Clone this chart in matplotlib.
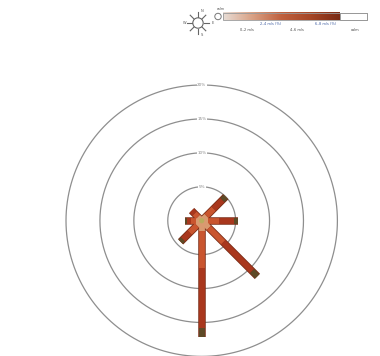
import numpy as np
import matplotlib
matplotlib.use("Agg")
import matplotlib.pyplot as plt
from matplotlib.colors import LinearSegmentedColormap
from matplotlib.patches import Circle, Rectangle

# Wind rose data: frequency (%) per direction and speed class
directions = ["N", "NE", "E", "SE", "S", "SW", "W", "NW"]
angles_deg = [0, 45, 90, 135, 180, 225, 270, 315]
speed_classes = ["0–2 m/s", "2–4 m/s", "4–6 m/s", "6–8 m/s"]
freq_0_2 = [0.0, 1.0, 1.0, 1.5, 1.5, 1.0, 0.8, 0.8]
freq_2_4 = [0.0, 1.5, 1.5, 3.0, 5.4, 1.5, 0.8, 0.7]
freq_4_6 = [0.0, 1.8, 2.2, 6.0, 8.9, 1.4, 0.6, 0.6]
freq_6_8 = [0.0, 0.7, 0.6, 1.1, 1.3, 0.5, 0.3, 0.0]
ring_values = [5, 10, 15, 20]
ring_labels = ["5%", "10%", "15%", "20%"]
legend_labels = ["0–2 m/s", "2–4 m/s (%)", "4–6 m/s", "6–8 m/s (%)", "calm"]

class_colors = ["#d99a70", "#c9552f", "#a9371d", "#5e4a26"]
edge_color = "#7a2c16"

W, H = 380, 356
fig = plt.figure(figsize=(W / 100, H / 100), dpi=100)
fig.patch.set_facecolor("white")

# polar axes: centre at (201.7, 220.7) px, radius 135.7 px
cx, cy, R = 201.7, 220.7, 135.7
ax = fig.add_axes([(cx - R) / W, (H - cy - R) / H, 2 * R / W, 2 * R / H],
                  projection="polar")
ax.set_theta_zero_location("N")
ax.set_theta_direction(-1)
ax.set_ylim(0, ring_values[-1])
ax.set_rticks([])
ax.set_xticks([])
ax.grid(False)
ax.spines["polar"].set_visible(False)
ax.set_facecolor("none")

th_full = np.linspace(0, 2 * np.pi, 361)
for rv, lab in zip(ring_values, ring_labels):
    ax.plot(th_full, np.full_like(th_full, rv), color="#8e8e8e", lw=0.9,
            zorder=1, clip_on=False)
    ax.text(0, rv, lab, fontsize=3, color="#888888", ha="center", va="center",
            bbox=dict(boxstyle="square,pad=0.15", fc="white", ec="none"), zorder=2)

stack = np.array([freq_0_2, freq_2_4, freq_4_6, freq_6_8])
cum = np.vstack([np.zeros(len(directions)), np.cumsum(stack, axis=0)])
bar_lw = 4.2
for j, ang in enumerate(angles_deg):
    t = np.deg2rad(ang)
    total = cum[-1, j]
    if total <= 0:
        continue
    ax.plot([t, t], [0, total], color=edge_color, lw=bar_lw + 1.2,
            solid_capstyle="butt", zorder=3)
    for k in range(len(speed_classes)):
        r0, r1 = cum[k, j], cum[k + 1, j]
        if r1 - r0 <= 0:
            continue
        ax.plot([t, t], [r0, r1], color=class_colors[k], lw=bar_lw,
                solid_capstyle="butt", zorder=4)
ax.scatter([0], [0], s=14, color="#b4b05a", alpha=0.85, zorder=5, edgecolors="none")

# legend overlay in pixel coordinates
lg = fig.add_axes([0, 0, 1, 1])
lg.set_xlim(0, W)
lg.set_ylim(H, 0)
lg.axis("off")
lg.patch.set_alpha(0)

# compass icon
icx, icy = 198, 23
lg.add_patch(Circle((icx, icy), 5.2, fill=False, ec="#666666", lw=0.8))
for a in range(0, 360, 45):
    ra = np.deg2rad(a)
    lg.plot([icx + 6 * np.sin(ra), icx + 11 * np.sin(ra)],
            [icy - 6 * np.cos(ra), icy - 11 * np.cos(ra)], color="#666666", lw=0.8)
for lab, (dx, dy) in zip(["N", "E", "S", "W"], [(4, -12), (15, 0), (4, 12), (-13, 0)]):
    lg.text(icx + dx, icy + dy, lab, fontsize=2.6, color="#555555",
            ha="center", va="center")

# calm marker
lg.add_patch(Circle((218, 16.5), 3.2, fill=False, ec="#777777", lw=0.7))
lg.text(221, 9.5, "calm", fontsize=2.4, color="#555555", ha="center", va="center")

# gradient bar
grad_cmap = LinearSegmentedColormap.from_list(
    "grad", ["#e8ddd6", "#d9a184", "#c0603e", "#a64626", "#7a2a14"])
gx0, gx1, gy0, gy1 = 223, 340, 12.5, 20
lg.imshow(np.linspace(0, 1, 256)[None, :], cmap=grad_cmap, aspect="auto",
          extent=[gx0, gx1, gy1, gy0], zorder=2)
lg.add_patch(Rectangle((gx1, gy0), 27, gy1 - gy0, fc="white", ec="#999999",
                       lw=0.7, zorder=2))
lg.add_patch(Rectangle((gx0, gy0), gx1 + 27 - gx0, gy1 - gy0, fill=False,
                       ec="#999999", lw=0.6, zorder=3))
lg.set_xlim(0, W)
lg.set_ylim(H, 0)

label_x = [247, 271, 297, 326, 355]
label_y = [30, 24, 30, 24, 30]
label_c = ["#444444", "#3a5aa0", "#444444", "#3a5aa0", "#444444"]
for x, y, c, t in zip(label_x, label_y, label_c, legend_labels):
    lg.text(x, y, t, fontsize=2.5, color=c, ha="center", va="center")

fig.savefig("out.png", dpi=100)
